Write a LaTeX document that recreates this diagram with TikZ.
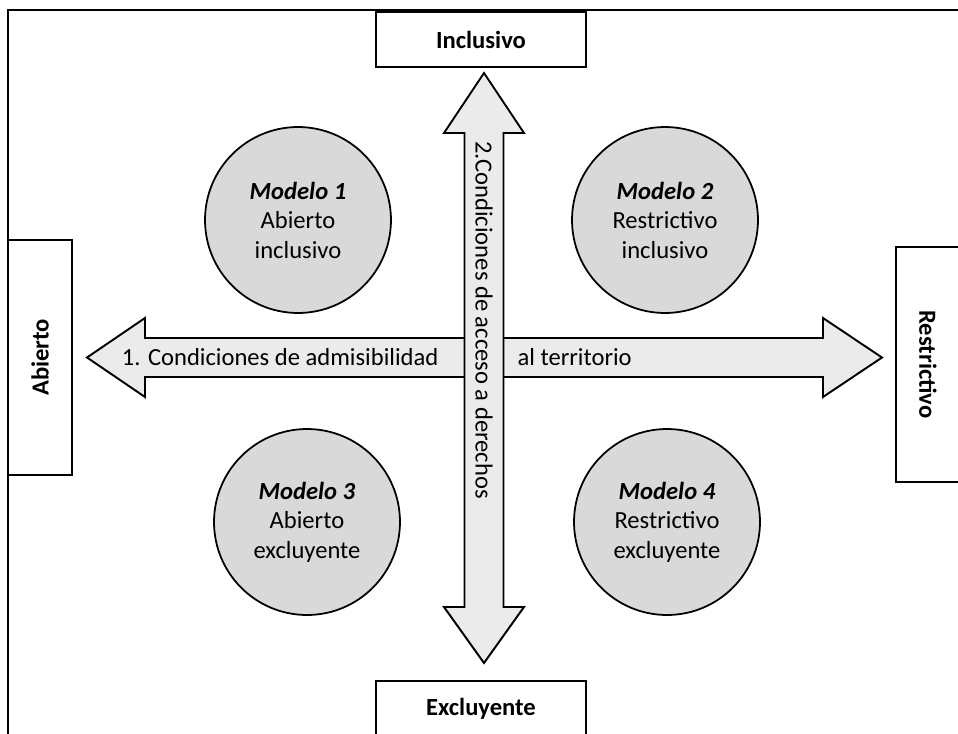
\documentclass[tikz,border=0pt]{standalone}
\usepackage{fontspec}
\setmainfont{Carlito}
\usepackage{xcolor}
\usepackage{tikz}
\definecolor{modelgray}{HTML}{D9D9D9}
\definecolor{arrowgray}{HTML}{EBEBEB}

\begin{document}
\begin{tikzpicture}[x=0.02cm,y=-0.02cm,
        box/.style={rectangle,draw,line width=1.3pt,fill=white,
                    minimum width=4.2cm,minimum height=1.1cm,font=\bfseries},
        sidebox/.style={box,minimum width=4.7cm,minimum height=1.28cm},
        model/.style={circle,draw,line width=1pt,fill=modelgray,
                      minimum size=3.72cm,align=center},
        bigarrow/.style={draw,line width=1.1pt,fill=arrowgray,line join=miter}]
      \useasboundingbox (0,0) rectangle (958,734);
      \clip (0,0) rectangle (958,734);
      \fontsize{14}{16.8}\selectfont
      % frame
      \draw[line width=1pt] (7,10) -- (958,10);
      \draw[line width=1pt] (8,10) -- (8,734);
      % models
      \node[model] (m1) at(298,220){\textbf{\textit{Modelo 1}}\\Abierto\\inclusivo};
      \node[model] (m2) at(665,220){\textbf{\textit{Modelo 2}}\\Restrictivo\\inclusivo};
      \node[model] (m3) at(307,522){\textbf{\textit{Modelo 3}}\\Abierto\\excluyente};
      \node[model] (m4) at(667,522){\textbf{\textit{Modelo 4}}\\Restrictivo\\excluyente};
      % axis 1
      \draw[bigarrow] (87,357.5) -- (145,318) -- (145,338) -- (823,338) -- (823,318)
        -- (882,357.5) -- (823,397) -- (823,377) -- (145,377) -- (145,397) -- cycle;
      \node[anchor=east] (a1) at(447,357.5){1. Condiciones de admisibilidad};
      \node[anchor=west] (a2) at(509,357.5){al territorio};
      % axis 2
      \draw[bigarrow] (484,73) -- (524,133) -- (503.5,133) -- (503.5,607) -- (524,607)
        -- (484,663) -- (444,607) -- (464.5,607) -- (464.5,133) -- (444,133) -- cycle;
      \node[rotate=-90] (a3) at(484,320){2.Condiciones de acceso a derechos};
      % poles
      \node[box]                (incl)  at(481,39.5){Inclusivo};
      \node[box]                (excl)  at(481,708.5){Excluyente};
      \node[sidebox,rotate=90]  (abie)  at(40,357.5){Abierto};
      \node[sidebox,rotate=-90] (restr) at(928,364.5){Restrictivo};
\end{tikzpicture}
\end{document}
